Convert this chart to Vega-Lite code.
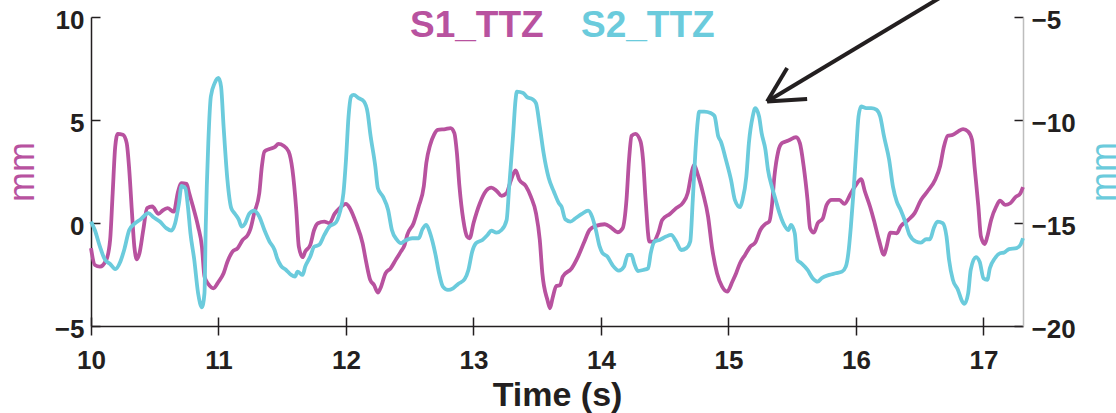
{
  "$schema": "https://vega.github.io/schema/vega-lite/v6.json",
  "width": 932,
  "height": 309,
  "autosize": {"type": "none"},
  "padding": {"left": 91, "top": 17, "right": 93, "bottom": 87},
  "background": "white",
  "config": {
    "view": {"stroke": null},
    "font": "Liberation Sans",
    "axis": {
      "grid": false,
      "labelFont": "Liberation Sans",
      "labelFontWeight": "bold",
      "labelFontSize": 26,
      "labelColor": "#231f20",
      "tickColor": "#231f20",
      "tickWidth": 1.5,
      "domainColor": "#231f20",
      "domainWidth": 1.5,
      "titleFont": "Liberation Sans"
    }
  },
  "datasets": {
    "s1": [
      {"t":10.00,"mm":-1.22},{"t":10.03,"mm":-2.04},{"t":10.07,"mm":-2.12},{"t":10.12,"mm":-1.79},{"t":10.15,"mm":-0.82},{"t":10.17,"mm":1.45},{"t":10.19,"mm":3.71},{"t":10.21,"mm":4.33},{"t":10.25,"mm":4.28},{"t":10.28,"mm":3.88},{"t":10.30,"mm":2.58},{"t":10.32,"mm":0.64},{"t":10.34,"mm":-1.15},{"t":10.36,"mm":-1.76},{"t":10.38,"mm":-1.47},{"t":10.41,"mm":-0.34},{"t":10.44,"mm":0.72},{"t":10.48,"mm":0.80},{"t":10.53,"mm":0.44},{"t":10.56,"mm":0.60},{"t":10.60,"mm":0.72},{"t":10.65,"mm":0.55},{"t":10.68,"mm":1.45},{"t":10.71,"mm":1.93},{"t":10.75,"mm":1.90},{"t":10.77,"mm":1.45},{"t":10.80,"mm":0.80},{"t":10.84,"mm":-0.17},{"t":10.87,"mm":-1.15},{"t":10.89,"mm":-2.60},{"t":10.92,"mm":-2.96},{"t":10.96,"mm":-3.17},{"t":11.00,"mm":-2.85},{"t":11.04,"mm":-2.44},{"t":11.07,"mm":-1.88},{"t":11.11,"mm":-1.39},{"t":11.15,"mm":-1.22},{"t":11.19,"mm":-0.82},{"t":11.23,"mm":-0.58},{"t":11.25,"mm":-0.30},{"t":11.28,"mm":0.48},{"t":11.32,"mm":1.45},{"t":11.34,"mm":2.74},{"t":11.36,"mm":3.47},{"t":11.40,"mm":3.59},{"t":11.44,"mm":3.68},{"t":11.47,"mm":3.84},{"t":11.51,"mm":3.75},{"t":11.55,"mm":3.47},{"t":11.58,"mm":2.58},{"t":11.61,"mm":0.64},{"t":11.63,"mm":-1.15},{"t":11.66,"mm":-1.66},{"t":11.68,"mm":-1.39},{"t":11.72,"mm":-1.06},{"t":11.75,"mm":-0.34},{"t":11.78,"mm":-0.01},{"t":11.83,"mm":0.07},{"t":11.87,"mm":-0.01},{"t":11.91,"mm":0.44},{"t":11.95,"mm":0.72},{"t":12.00,"mm":0.93},{"t":12.03,"mm":0.72},{"t":12.08,"mm":-0.01},{"t":12.13,"mm":-0.98},{"t":12.16,"mm":-1.95},{"t":12.19,"mm":-2.76},{"t":12.22,"mm":-3.01},{"t":12.25,"mm":-3.38},{"t":12.27,"mm":-3.17},{"t":12.31,"mm":-2.44},{"t":12.35,"mm":-2.20},{"t":12.39,"mm":-1.79},{"t":12.43,"mm":-1.39},{"t":12.46,"mm":-1.06},{"t":12.48,"mm":-0.58},{"t":12.53,"mm":-0.01},{"t":12.57,"mm":0.80},{"t":12.61,"mm":1.77},{"t":12.63,"mm":2.91},{"t":12.66,"mm":3.79},{"t":12.69,"mm":4.28},{"t":12.72,"mm":4.52},{"t":12.78,"mm":4.56},{"t":12.82,"mm":4.61},{"t":12.85,"mm":4.36},{"t":12.87,"mm":3.39},{"t":12.89,"mm":1.77},{"t":12.92,"mm":0.15},{"t":12.95,"mm":-0.66},{"t":12.97,"mm":-0.74},{"t":13.00,"mm":-0.01},{"t":13.05,"mm":0.96},{"t":13.10,"mm":1.57},{"t":13.14,"mm":1.72},{"t":13.18,"mm":1.57},{"t":13.22,"mm":1.32},{"t":13.26,"mm":1.45},{"t":13.29,"mm":2.01},{"t":13.33,"mm":2.55},{"t":13.36,"mm":2.09},{"t":13.41,"mm":1.80},{"t":13.45,"mm":1.28},{"t":13.49,"mm":0.48},{"t":13.52,"mm":-0.82},{"t":13.54,"mm":-2.44},{"t":13.58,"mm":-3.74},{"t":13.60,"mm":-4.14},{"t":13.62,"mm":-3.65},{"t":13.65,"mm":-3.06},{"t":13.68,"mm":-3.01},{"t":13.70,"mm":-2.60},{"t":13.77,"mm":-2.20},{"t":13.82,"mm":-1.63},{"t":13.87,"mm":-0.90},{"t":13.91,"mm":-0.34},{"t":13.96,"mm":-0.14},{"t":14.03,"mm":-0.06},{"t":14.08,"mm":-0.22},{"t":14.13,"mm":-0.45},{"t":14.17,"mm":-0.25},{"t":14.20,"mm":1.12},{"t":14.22,"mm":3.07},{"t":14.24,"mm":4.23},{"t":14.27,"mm":4.33},{"t":14.31,"mm":3.96},{"t":14.33,"mm":3.07},{"t":14.35,"mm":1.12},{"t":14.38,"mm":-0.90},{"t":14.41,"mm":-0.90},{"t":14.45,"mm":-0.47},{"t":14.48,"mm":0.15},{"t":14.54,"mm":0.44},{"t":14.59,"mm":0.72},{"t":14.64,"mm":0.96},{"t":14.68,"mm":1.45},{"t":14.71,"mm":2.42},{"t":14.73,"mm":2.82},{"t":14.76,"mm":2.34},{"t":14.80,"mm":1.45},{"t":14.84,"mm":0.31},{"t":14.87,"mm":-1.15},{"t":14.91,"mm":-2.44},{"t":14.95,"mm":-3.09},{"t":14.99,"mm":-3.33},{"t":15.03,"mm":-2.85},{"t":15.06,"mm":-2.44},{"t":15.09,"mm":-1.95},{"t":15.13,"mm":-1.55},{"t":15.17,"mm":-1.15},{"t":15.21,"mm":-0.95},{"t":15.25,"mm":-0.34},{"t":15.29,"mm":-0.04},{"t":15.32,"mm":0.07},{"t":15.34,"mm":0.80},{"t":15.36,"mm":2.25},{"t":15.39,"mm":3.47},{"t":15.42,"mm":3.88},{"t":15.47,"mm":4.00},{"t":15.53,"mm":4.17},{"t":15.56,"mm":3.88},{"t":15.59,"mm":2.74},{"t":15.62,"mm":1.12},{"t":15.64,"mm":-0.25},{"t":15.67,"mm":-0.47},{"t":15.70,"mm":-0.01},{"t":15.74,"mm":0.23},{"t":15.77,"mm":0.88},{"t":15.81,"mm":1.12},{"t":15.87,"mm":1.12},{"t":15.91,"mm":0.93},{"t":15.96,"mm":1.45},{"t":16.00,"mm":1.85},{"t":16.04,"mm":2.13},{"t":16.07,"mm":1.53},{"t":16.11,"mm":0.80},{"t":16.14,"mm":0.15},{"t":16.18,"mm":-0.82},{"t":16.22,"mm":-1.55},{"t":16.24,"mm":-1.15},{"t":16.27,"mm":-0.47},{"t":16.32,"mm":-0.50},{"t":16.35,"mm":-0.17},{"t":16.41,"mm":0.15},{"t":16.46,"mm":0.48},{"t":16.51,"mm":1.12},{"t":16.56,"mm":1.53},{"t":16.62,"mm":2.09},{"t":16.66,"mm":2.77},{"t":16.69,"mm":3.71},{"t":16.72,"mm":4.23},{"t":16.76,"mm":4.28},{"t":16.80,"mm":4.44},{"t":16.84,"mm":4.56},{"t":16.88,"mm":4.44},{"t":16.91,"mm":4.04},{"t":16.93,"mm":2.74},{"t":16.96,"mm":0.80},{"t":16.98,"mm":-0.66},{"t":17.01,"mm":-1.02},{"t":17.03,"mm":-0.66},{"t":17.06,"mm":0.15},{"t":17.10,"mm":0.80},{"t":17.13,"mm":1.09},{"t":17.17,"mm":0.88},{"t":17.21,"mm":0.96},{"t":17.25,"mm":1.25},{"t":17.29,"mm":1.45},{"t":17.31,"mm":1.74}
    ],
    "s2": [
      {"t":10.00,"mm":-14.93},{"t":10.03,"mm":-15.34},{"t":10.07,"mm":-16.15},{"t":10.11,"mm":-16.79},{"t":10.15,"mm":-16.99},{"t":10.19,"mm":-17.24},{"t":10.23,"mm":-16.88},{"t":10.26,"mm":-16.31},{"t":10.30,"mm":-15.34},{"t":10.34,"mm":-15.04},{"t":10.39,"mm":-14.82},{"t":10.45,"mm":-14.52},{"t":10.49,"mm":-14.72},{"t":10.54,"mm":-14.93},{"t":10.59,"mm":-15.25},{"t":10.63,"mm":-15.37},{"t":10.66,"mm":-15.01},{"t":10.69,"mm":-14.04},{"t":10.71,"mm":-13.20},{"t":10.74,"mm":-13.31},{"t":10.76,"mm":-14.20},{"t":10.78,"mm":-15.50},{"t":10.81,"mm":-16.79},{"t":10.84,"mm":-18.41},{"t":10.87,"mm":-19.09},{"t":10.89,"mm":-18.41},{"t":10.90,"mm":-15.17},{"t":10.92,"mm":-11.12},{"t":10.94,"mm":-8.86},{"t":10.97,"mm":-8.21},{"t":11.00,"mm":-7.96},{"t":11.02,"mm":-8.37},{"t":11.04,"mm":-10.32},{"t":11.07,"mm":-12.91},{"t":11.10,"mm":-14.28},{"t":11.13,"mm":-14.56},{"t":11.16,"mm":-14.85},{"t":11.18,"mm":-15.17},{"t":11.21,"mm":-15.01},{"t":11.24,"mm":-14.56},{"t":11.28,"mm":-14.40},{"t":11.32,"mm":-14.69},{"t":11.36,"mm":-15.34},{"t":11.40,"mm":-15.90},{"t":11.44,"mm":-16.31},{"t":11.46,"mm":-16.71},{"t":11.49,"mm":-17.08},{"t":11.53,"mm":-17.28},{"t":11.57,"mm":-17.52},{"t":11.60,"mm":-17.60},{"t":11.62,"mm":-17.36},{"t":11.66,"mm":-17.52},{"t":11.68,"mm":-17.12},{"t":11.72,"mm":-16.63},{"t":11.75,"mm":-16.15},{"t":11.79,"mm":-16.06},{"t":11.83,"mm":-15.58},{"t":11.87,"mm":-15.17},{"t":11.92,"mm":-14.98},{"t":11.95,"mm":-14.52},{"t":11.98,"mm":-13.55},{"t":12.00,"mm":-11.93},{"t":12.02,"mm":-9.83},{"t":12.04,"mm":-8.86},{"t":12.06,"mm":-8.78},{"t":12.10,"mm":-8.94},{"t":12.14,"mm":-9.10},{"t":12.17,"mm":-9.66},{"t":12.19,"mm":-10.64},{"t":12.23,"mm":-12.26},{"t":12.25,"mm":-13.31},{"t":12.29,"mm":-13.72},{"t":12.33,"mm":-14.36},{"t":12.36,"mm":-15.34},{"t":12.40,"mm":-15.82},{"t":12.43,"mm":-15.98},{"t":12.46,"mm":-15.87},{"t":12.52,"mm":-15.74},{"t":12.57,"mm":-15.74},{"t":12.60,"mm":-15.30},{"t":12.63,"mm":-15.09},{"t":12.66,"mm":-15.50},{"t":12.70,"mm":-16.47},{"t":12.73,"mm":-17.44},{"t":12.76,"mm":-18.09},{"t":12.80,"mm":-18.25},{"t":12.84,"mm":-18.17},{"t":12.88,"mm":-17.96},{"t":12.93,"mm":-17.73},{"t":12.96,"mm":-17.28},{"t":12.99,"mm":-16.39},{"t":13.02,"mm":-15.98},{"t":13.07,"mm":-15.82},{"t":13.11,"mm":-15.58},{"t":13.14,"mm":-15.37},{"t":13.18,"mm":-15.47},{"t":13.22,"mm":-15.34},{"t":13.26,"mm":-14.85},{"t":13.28,"mm":-13.23},{"t":13.31,"mm":-10.80},{"t":13.33,"mm":-9.02},{"t":13.34,"mm":-8.62},{"t":13.39,"mm":-8.69},{"t":13.42,"mm":-8.89},{"t":13.46,"mm":-8.98},{"t":13.49,"mm":-9.18},{"t":13.52,"mm":-10.32},{"t":13.55,"mm":-11.61},{"t":13.59,"mm":-12.82},{"t":13.63,"mm":-13.47},{"t":13.67,"mm":-14.04},{"t":13.69,"mm":-14.20},{"t":13.72,"mm":-14.82},{"t":13.76,"mm":-14.93},{"t":13.80,"mm":-14.77},{"t":13.85,"mm":-14.56},{"t":13.90,"mm":-14.40},{"t":13.93,"mm":-14.69},{"t":13.96,"mm":-15.34},{"t":13.99,"mm":-16.15},{"t":14.01,"mm":-16.44},{"t":14.05,"mm":-16.63},{"t":14.09,"mm":-17.04},{"t":14.14,"mm":-17.31},{"t":14.18,"mm":-17.12},{"t":14.21,"mm":-16.55},{"t":14.24,"mm":-16.55},{"t":14.26,"mm":-16.95},{"t":14.29,"mm":-17.33},{"t":14.33,"mm":-17.28},{"t":14.37,"mm":-17.20},{"t":14.39,"mm":-16.47},{"t":14.42,"mm":-15.90},{"t":14.46,"mm":-15.82},{"t":14.51,"mm":-15.66},{"t":14.55,"mm":-15.58},{"t":14.59,"mm":-15.90},{"t":14.63,"mm":-16.31},{"t":14.67,"mm":-16.22},{"t":14.70,"mm":-15.90},{"t":14.72,"mm":-13.88},{"t":14.74,"mm":-11.61},{"t":14.76,"mm":-9.99},{"t":14.77,"mm":-9.59},{"t":14.81,"mm":-9.59},{"t":14.86,"mm":-9.66},{"t":14.89,"mm":-9.80},{"t":14.92,"mm":-10.80},{"t":14.94,"mm":-11.04},{"t":14.98,"mm":-11.93},{"t":15.02,"mm":-12.91},{"t":15.05,"mm":-13.88},{"t":15.09,"mm":-14.23},{"t":15.11,"mm":-13.88},{"t":15.14,"mm":-12.75},{"t":15.16,"mm":-11.12},{"t":15.19,"mm":-9.83},{"t":15.21,"mm":-9.42},{"t":15.24,"mm":-9.83},{"t":15.26,"mm":-10.64},{"t":15.29,"mm":-11.45},{"t":15.31,"mm":-12.42},{"t":15.34,"mm":-13.23},{"t":15.37,"mm":-13.88},{"t":15.40,"mm":-14.52},{"t":15.43,"mm":-15.01},{"t":15.47,"mm":-15.34},{"t":15.49,"mm":-15.09},{"t":15.52,"mm":-15.50},{"t":15.54,"mm":-16.79},{"t":15.57,"mm":-16.95},{"t":15.62,"mm":-17.28},{"t":15.66,"mm":-17.68},{"t":15.70,"mm":-17.85},{"t":15.73,"mm":-17.68},{"t":15.79,"mm":-17.52},{"t":15.84,"mm":-17.44},{"t":15.89,"mm":-17.36},{"t":15.92,"mm":-17.12},{"t":15.94,"mm":-16.47},{"t":15.96,"mm":-15.17},{"t":15.98,"mm":-13.55},{"t":16.00,"mm":-11.61},{"t":16.02,"mm":-9.83},{"t":16.04,"mm":-9.34},{"t":16.08,"mm":-9.42},{"t":16.12,"mm":-9.42},{"t":16.16,"mm":-9.50},{"t":16.19,"mm":-9.83},{"t":16.22,"mm":-10.80},{"t":16.26,"mm":-11.93},{"t":16.29,"mm":-13.23},{"t":16.32,"mm":-13.96},{"t":16.35,"mm":-14.36},{"t":16.39,"mm":-15.01},{"t":16.42,"mm":-15.58},{"t":16.47,"mm":-15.90},{"t":16.51,"mm":-15.95},{"t":16.55,"mm":-15.79},{"t":16.58,"mm":-15.79},{"t":16.61,"mm":-15.25},{"t":16.64,"mm":-14.93},{"t":16.68,"mm":-15.01},{"t":16.71,"mm":-15.66},{"t":16.73,"mm":-16.79},{"t":16.76,"mm":-17.76},{"t":16.80,"mm":-18.25},{"t":16.83,"mm":-18.77},{"t":16.85,"mm":-18.93},{"t":16.88,"mm":-18.41},{"t":16.90,"mm":-17.28},{"t":16.94,"mm":-16.66},{"t":16.97,"mm":-16.88},{"t":17.00,"mm":-17.68},{"t":17.03,"mm":-17.76},{"t":17.05,"mm":-17.20},{"t":17.09,"mm":-16.71},{"t":17.13,"mm":-16.47},{"t":17.16,"mm":-16.44},{"t":17.20,"mm":-16.27},{"t":17.26,"mm":-16.22},{"t":17.29,"mm":-16.06},{"t":17.31,"mm":-15.74}
    ],
    "arrow": [
      {"t":15.303,"v":5.90,"t2":16.66,"v2":10.94},
      {"t":15.303,"v":5.90,"t2":15.46,"v2":7.52},
      {"t":15.303,"v":5.90,"t2":15.617,"v2":6.02}
    ]
  },
  "layer": [
    {
      "layer": [
        {
          "data": {"name": "s1"},
          "mark": {"type": "line", "strokeWidth": 3.8, "interpolate": "monotone", "strokeJoin": "round"},
          "encoding": {
            "x": {
              "field": "t", "type": "quantitative",
              "scale": {"domain": [10, 17.31], "nice": false, "zero": false},
              "axis": {
                "values": [10, 11, 12, 13, 14, 15, 16, 17], "format": "d", "labelFlush": false,
                "tickSize": 9, "labelPadding": 12,
                "title": "Time (s)", "titleFontSize": 34, "titleFontWeight": "bold", "titleColor": "#231f20",
                "titleX": 466, "titleY": 79, "titleBaseline": "alphabetic", "titleAlign": "center"
              }
            },
            "y": {
              "field": "mm", "type": "quantitative",
              "scale": {"domain": [-5, 10], "nice": false, "zero": false},
              "axis": {
                "orient": "left",
                "values": [-5, 0, 5, 10], "format": "d", "labelFlush": false,
                "tickSize": -9, "labelPadding": 16, "labelOffset": 3,
                "title": "mm", "titleColor": "#b8529f", "titleFontSize": 36, "titleFontWeight": "normal",
                "titleAngle": 270, "titleX": -58, "titleY": 154.5, "titleAlign": "center", "titleBaseline": "alphabetic"
              }
            },
            "color": {
              "datum": "S1_TTZ", "type": "nominal",
              "scale": {"domain": ["S1_TTZ", "S2_TTZ"], "range": ["#b8529f", "#6bcbdc"]},
              "legend": {
                "orient": "none", "legendX": 282, "legendY": -10, "direction": "horizontal",
                "title": null, "padding": 0,
                "symbolSize": 0, "symbolStrokeWidth": 0, "symbolOpacity": 0, "labelOffset": 0,
                "labelFont": "Liberation Sans", "labelFontSize": 37, "labelFontWeight": "bold", "labelLimit": 0,
                "columnPadding": -27,
                "labelColor": {"expr": "datum.label === 'S1_TTZ' ? '#b8529f' : '#6bcbdc'"}
              }
            }
          }
        },
        {
          "data": {"name": "arrow"},
          "mark": {"type": "rule", "strokeWidth": 4, "color": "#231f20", "strokeCap": "butt"},
          "encoding": {
            "x": {"field": "t", "type": "quantitative", "title": "Time (s)"},
            "y": {"field": "v", "type": "quantitative", "title": "mm"},
            "x2": {"field": "t2"},
            "y2": {"field": "v2"}
          }
        }
      ]
    },
    {
      "data": {"name": "s2"},
      "mark": {"type": "line", "strokeWidth": 3.8, "interpolate": "monotone", "strokeJoin": "round"},
      "encoding": {
        "x": {
          "field": "t", "type": "quantitative",
          "axis": {
            "orient": "bottom", "values": [10, 11, 12, 13, 14, 15, 16, 17],
            "tickSize": -9, "labels": false, "domain": false, "title": null
          }
        },
        "y": {
          "field": "mm", "type": "quantitative",
          "scale": {"domain": [-20, -5], "nice": false, "zero": false},
          "axis": {
            "orient": "right",
            "values": [-20, -15, -10, -5], "format": "d", "labelFlush": false,
            "tickSize": -9, "labelPadding": 17, "labelOffset": 3,
            "domainColor": "#bdbdbd",
            "title": "mm", "titleColor": "#6bcbdc", "titleFontSize": 36, "titleFontWeight": "normal",
            "titleAngle": 270, "titleX": 92, "titleY": 154.5, "titleAlign": "center", "titleBaseline": "alphabetic"
          }
        },
        "color": {"datum": "S2_TTZ", "type": "nominal"}
      }
    }
  ],
  "resolve": {
    "scale": {"y": "independent"},
    "axis": {"x": "independent", "y": "independent"}
  }
}
